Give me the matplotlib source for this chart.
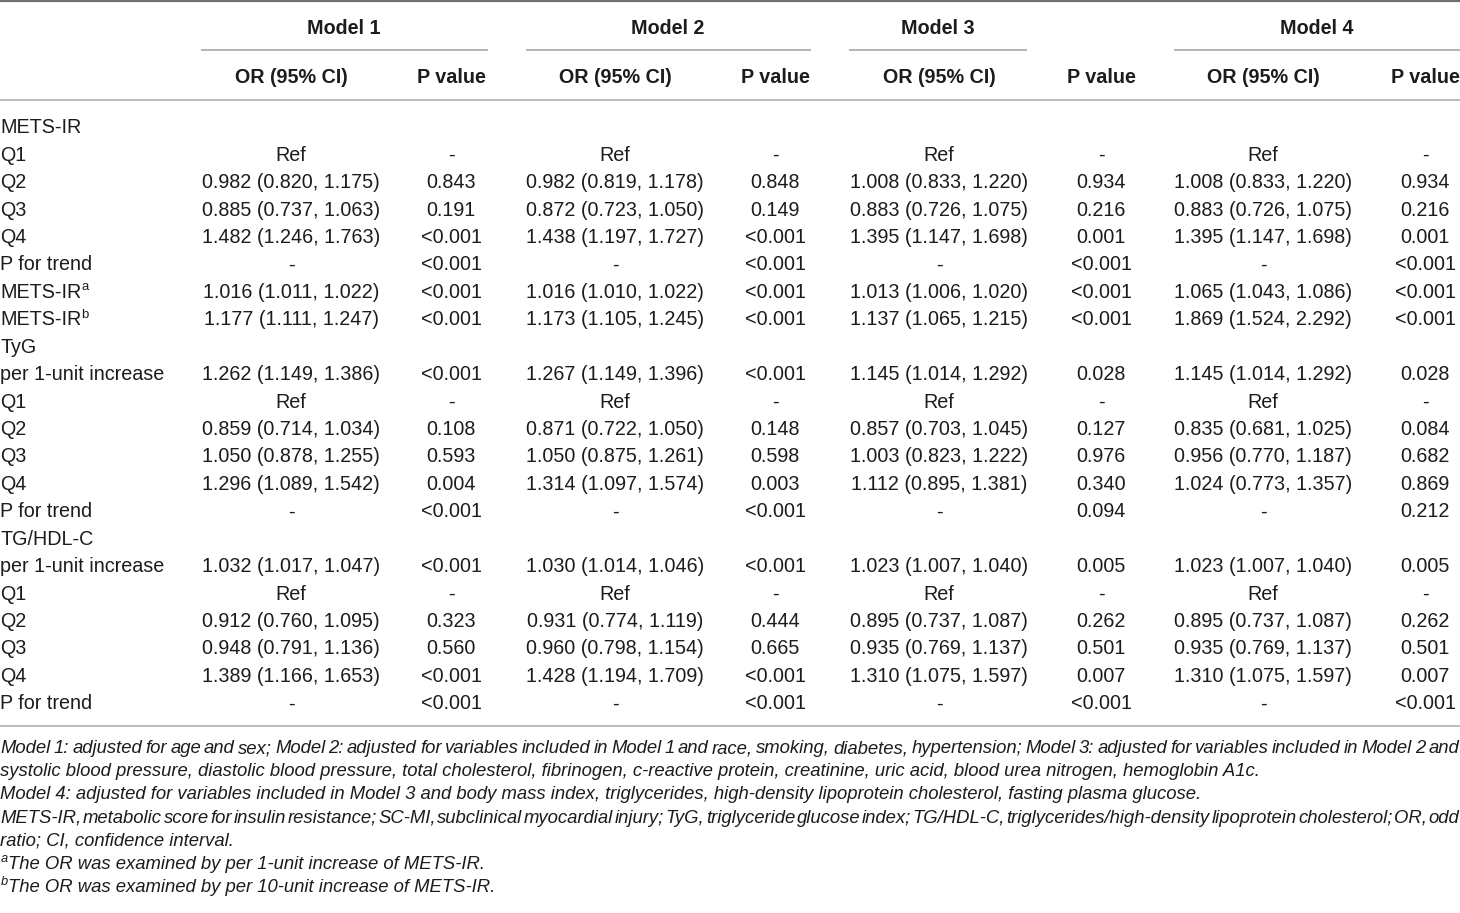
import matplotlib
matplotlib.use("Agg")
import matplotlib.pyplot as plt

plt.rcParams['font.family'] = ['Liberation Sans', 'DejaVu Sans']

# ---------------- data ----------------
models = ["Model 1", "Model 2", "Model 3", "Model 4"]
sub_headers = ["OR (95% CI)", "P value"]

row_labels = ["METS-IR", "Q1", "Q2", "Q3", "Q4", "P for trend", "METS-IR", "METS-IR",
              "TyG", "per 1-unit increase", "Q1", "Q2", "Q3", "Q4", "P for trend",
              "TG/HDL-C", "per 1-unit increase", "Q1", "Q2", "Q3", "Q4", "P for trend"]
row_sups = ["", "", "", "", "", "", "a", "b", "", "", "", "", "", "", "", "", "", "", "", "", "", ""]

m1_or = ["", "Ref", "0.982 (0.820, 1.175)", "0.885 (0.737, 1.063)", "1.482 (1.246, 1.763)", "-",
         "1.016 (1.011, 1.022)", "1.177 (1.111, 1.247)", "", "1.262 (1.149, 1.386)", "Ref",
         "0.859 (0.714, 1.034)", "1.050 (0.878, 1.255)", "1.296 (1.089, 1.542)", "-", "",
         "1.032 (1.017, 1.047)", "Ref", "0.912 (0.760, 1.095)", "0.948 (0.791, 1.136)",
         "1.389 (1.166, 1.653)", "-"]
m1_p = ["", "-", "0.843", "0.191", "<0.001", "<0.001", "<0.001", "<0.001", "", "<0.001", "-",
        "0.108", "0.593", "0.004", "<0.001", "", "<0.001", "-", "0.323", "0.560", "<0.001", "<0.001"]
m2_or = ["", "Ref", "0.982 (0.819, 1.178)", "0.872 (0.723, 1.050)", "1.438 (1.197, 1.727)", "-",
         "1.016 (1.010, 1.022)", "1.173 (1.105, 1.245)", "", "1.267 (1.149, 1.396)", "Ref",
         "0.871 (0.722, 1.050)", "1.050 (0.875, 1.261)", "1.314 (1.097, 1.574)", "-", "",
         "1.030 (1.014, 1.046)", "Ref", "0.931 (0.774, 1.119)", "0.960 (0.798, 1.154)",
         "1.428 (1.194, 1.709)", "-"]
m2_p = ["", "-", "0.848", "0.149", "<0.001", "<0.001", "<0.001", "<0.001", "", "<0.001", "-",
        "0.148", "0.598", "0.003", "<0.001", "", "<0.001", "-", "0.444", "0.665", "<0.001", "<0.001"]
m3_or = ["", "Ref", "1.008 (0.833, 1.220)", "0.883 (0.726, 1.075)", "1.395 (1.147, 1.698)", "-",
         "1.013 (1.006, 1.020)", "1.137 (1.065, 1.215)", "", "1.145 (1.014, 1.292)", "Ref",
         "0.857 (0.703, 1.045)", "1.003 (0.823, 1.222)", "1.112 (0.895, 1.381)", "-", "",
         "1.023 (1.007, 1.040)", "Ref", "0.895 (0.737, 1.087)", "0.935 (0.769, 1.137)",
         "1.310 (1.075, 1.597)", "-"]
m3_p = ["", "-", "0.934", "0.216", "0.001", "<0.001", "<0.001", "<0.001", "", "0.028", "-",
        "0.127", "0.976", "0.340", "0.094", "", "0.005", "-", "0.262", "0.501", "0.007", "<0.001"]
m4_or = ["", "Ref", "1.008 (0.833, 1.220)", "0.883 (0.726, 1.075)", "1.395 (1.147, 1.698)", "-",
         "1.065 (1.043, 1.086)", "1.869 (1.524, 2.292)", "", "1.145 (1.014, 1.292)", "Ref",
         "0.835 (0.681, 1.025)", "0.956 (0.770, 1.187)", "1.024 (0.773, 1.357)", "-", "",
         "1.023 (1.007, 1.040)", "Ref", "0.895 (0.737, 1.087)", "0.935 (0.769, 1.137)",
         "1.310 (1.075, 1.597)", "-"]
m4_p = ["", "-", "0.934", "0.216", "0.001", "<0.001", "<0.001", "<0.001", "", "0.028", "-",
        "0.084", "0.682", "0.869", "0.212", "", "0.005", "-", "0.262", "0.501", "0.007", "<0.001"]

footnotes = [
    ("", "Model 1: adjusted for age and sex; Model 2: adjusted for variables included in Model 1 and race, smoking, diabetes, hypertension; Model 3: adjusted for variables included in Model 2 and", True),
    ("", "systolic blood pressure, diastolic blood pressure, total cholesterol, fibrinogen, c-reactive protein, creatinine, uric acid, blood urea nitrogen, hemoglobin A1c.", False),
    ("", "Model 4: adjusted for variables included in Model 3 and body mass index, triglycerides, high-density lipoprotein cholesterol, fasting plasma glucose.", False),
    ("", "METS-IR, metabolic score for insulin resistance; SC-MI, subclinical myocardial injury; TyG, triglyceride glucose index; TG/HDL-C, triglycerides/high-density lipoprotein cholesterol; OR, odd", True),
    ("", "ratio; CI, confidence interval.", False),
    ("a", "The OR was examined by per 1-unit increase of METS-IR.", False),
    ("b", "The OR was examined by per 10-unit increase of METS-IR.", False),
]

# ---------------- layout ----------------
W, H = 1460, 913
fig = plt.figure(figsize=(W / 100, H / 100), dpi=100)
ax = fig.add_axes([0, 0, 1, 1])
ax.set_xlim(0, W)
ax.set_ylim(H, 0)
ax.axis("off")
renderer = fig.canvas.get_renderer()

TXT = "#1c1c1c"
FS = 14.2
or_cols = [291, 615, 939, 1263]
p_cols = [451, 775, 1101, 1425]
model_centers = [343.5, 668, 938, 1317]
model_lines = [(201, 488), (526, 811), (849, 1027), (1174, 1460)]

def width(t):
    return t.get_window_extent(renderer).width

def str_width(s, fs, style="normal"):
    t = ax.text(0, -200, s, fontsize=fs, style=style)
    w = width(t)
    t.remove()
    return w

# rules
ax.plot([0, W], [1, 1], color="#707070", lw=1.6, solid_capstyle="butt")
for x0, x1 in model_lines:
    ax.plot([x0, x1], [50.5, 50.5], color="#a0a0a0", lw=1.1, solid_capstyle="butt")
ax.plot([0, W], [100.5, 100.5], color="#a8a8a8", lw=1.1, solid_capstyle="butt")
ax.plot([0, W], [726, 726], color="#a8a8a8", lw=1.1, solid_capstyle="butt")

# headers
for name, xc in zip(models, model_centers):
    ax.text(xc, 27 + 7, name, ha="center", va="baseline", fontsize=FS, fontweight="bold", color=TXT)
for xo, xp in zip(or_cols, p_cols):
    ax.text(xo, 76 + 7, sub_headers[0], ha="center", va="baseline", fontsize=FS, fontweight="bold", color=TXT)
    ax.text(xp, 76 + 7, sub_headers[1], ha="center", va="baseline", fontsize=FS, fontweight="bold", color=TXT)

# body
y0, dy = 126.3, 27.43
or_data = [m1_or, m2_or, m3_or, m4_or]
p_data = [m1_p, m2_p, m3_p, m4_p]
for i, lab in enumerate(row_labels):
    yb = y0 + i * dy + 7
    t = ax.text(0.5, yb, lab, ha="left", va="baseline", fontsize=FS, color=TXT)
    if row_sups[i]:
        w = width(t)
        ax.text(0.5 + w - 0.5, yb - 7.5, row_sups[i], ha="left", va="baseline", fontsize=9.5, color=TXT)
    for k in range(4):
        if or_data[k][i]:
            ax.text(or_cols[k], yb, or_data[k][i], ha="center", va="baseline", fontsize=FS, color=TXT)
        if p_data[k][i]:
            ax.text(p_cols[k], yb, p_data[k][i], ha="center", va="baseline", fontsize=FS, color=TXT)

# footnotes: size chosen so the second line spans to ~1262 px
fs_fn = 12 * 1262 / str_width(footnotes[1][1], 12, "italic")

fy0, fdy = 747, 23.2
for j, (sup, line, justify) in enumerate(footnotes):
    yb = fy0 + j * fdy + 6.0
    x = 0.5
    if sup:
        ts = ax.text(x, yb - 7, sup, ha="left", va="baseline", fontsize=fs_fn * 0.7, style="italic", color=TXT)
        x += width(ts) + 0.5
    if justify:
        words = line.split(" ")
        natural = str_width(line, fs_fn, "italic")
        extra = (W - 1 - x - natural) / (len(words) - 1)
        bar = str_width("|", fs_fn, "italic")
        for k, wd in enumerate(words):
            if k == 0:
                start = 0.0
            else:
                prefix = " ".join(words[:k]) + " "
                start = str_width(prefix + "|", fs_fn, "italic") - bar
            ax.text(x + start + k * extra, yb, wd, ha="left", va="baseline",
                    fontsize=fs_fn, style="italic", color=TXT)
    else:
        ax.text(x, yb, line, ha="left", va="baseline", fontsize=fs_fn, style="italic", color=TXT)

fig.savefig("out.png", dpi=100, facecolor="white")
